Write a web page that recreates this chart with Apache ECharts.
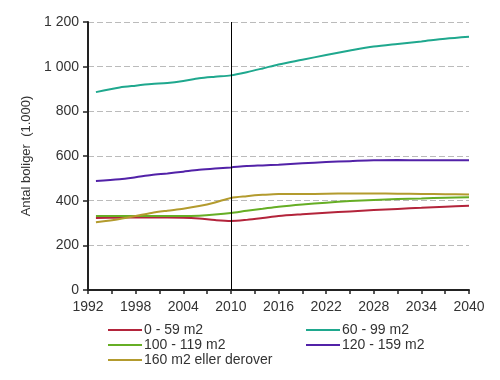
<!DOCTYPE html>
<html><head><meta charset="utf-8">
<script src="https://cdn.jsdelivr.net/npm/echarts@6/dist/echarts.min.js"></script>
<style>html,body{margin:0;padding:0;background:#fff}#c{width:500px;height:380px}</style>
</head><body><div id="c"></div>
<script>
const years = [1993, 1996, 1998, 2000, 2002, 2004, 2006, 2008, 2010, 2012, 2014, 2016, 2019, 2022, 2025, 2028, 2031, 2034, 2037, 2040];
const s0_59 =    [322, 324, 325, 325, 325, 324, 320, 313, 309, 314, 322, 331, 339, 346, 352, 358, 363, 368, 373, 377];
const s60_99 =   [886, 907, 915, 922, 927, 936, 948, 955, 961, 975, 992, 1010, 1031, 1052, 1072, 1090, 1102, 1113, 1125, 1134];
const s100_119 = [331, 331, 331, 331, 331, 331, 333, 338, 345, 355, 364, 373, 383, 391, 398, 403, 407, 410, 413, 415];
const s120_159 = [488, 496, 505, 515, 522, 530, 538, 544, 549, 555, 558, 561, 567, 573, 577, 581, 582, 581, 581, 581];
const s160 =     [303, 318, 331, 345, 355, 364, 376, 392, 412, 420, 426, 430, 430, 431, 432, 432, 431, 430, 429, 428];
const names = ['0 - 59 m2', '60 - 99 m2', '100 - 119 m2', '120 - 159 m2', '160 m2 eller derover'];
const colors = ['#B3243B', '#1FA88E', '#66AE25', '#5222A8', '#B39B2E'];
const allSeries = [s0_59, s60_99, s100_119, s120_159, s160];
const yTicks = [0, 200, 400, 600, 800, 1000, 1200];

const chart = echarts.init(document.getElementById('c'));
const font = 'Liberation Sans, Arial, sans-serif';
const series = allSeries.map((d, i) => ({
  name: names[i], type: 'line', showSymbol: false, smooth: 0.3,
  lineStyle: {width: 2, color: colors[i]}, itemStyle: {color: colors[i]},
  data: years.map((y, j) => [y, d[j]]),
  z: 3
}));
series[0].markLine = {
  silent: true, symbol: 'none', label: {show: false},
  lineStyle: {color: '#000', type: 'solid', width: 1},
  data: [{xAxis: 2010}]
};
const legendCommon = {
  orient: 'vertical', itemWidth: 34, itemHeight: 2, itemGap: 1,
  icon: 'rect',
  textStyle: {fontFamily: font, fontSize: 14, color: '#333', padding: [0,0,0,-3]},
};
chart.setOption({
  animation: false,
  color: colors,
  grid: {left: 88, right: 31, top: 22, bottom: 90},
  legend: [
    Object.assign({left: 103, top: 318, data: [names[0], names[2], names[4]]}, legendCommon),
    Object.assign({left: 301, top: 318, data: [names[1], names[3]]}, legendCommon)
  ],
  xAxis: {
    type: 'value', min: 1992, max: 2040, interval: 3,
    axisLine: {lineStyle: {color: '#222', width: 2}},
    axisTick: {show: true, length: 4, lineStyle: {color: '#222', width: 1.5}},
    splitLine: {show: false},
    axisLabel: {fontFamily: font, fontSize: 14, color: '#333', margin: 10,
      formatter: v => ((v - 1992) % 6 === 0 ? String(v) : '')}
  },
  yAxis: {
    type: 'value', min: 0, max: 1200, interval: 200,
    name: 'Antal boliger  (1.000)', nameLocation: 'middle', nameGap: 49,
    nameTextStyle: {fontFamily: font, fontSize: 13, color: '#333'},
    axisLine: {show: true, lineStyle: {color: '#222', width: 2}},
    axisTick: {show: true, length: 5, lineStyle: {color: '#222', width: 1.5}},
    splitLine: {show: true, lineStyle: {color: '#bbb', type: [6, 3], width: 1}},
    axisLabel: {fontFamily: font, fontSize: 14, color: '#333', margin: 9,
      formatter: v => yTicks.includes(v) ? String(v).replace(/\B(?=(\d{3})+(?!\d))/g, ' ') : ''}
  },
  series: series
});
</script></body></html>
